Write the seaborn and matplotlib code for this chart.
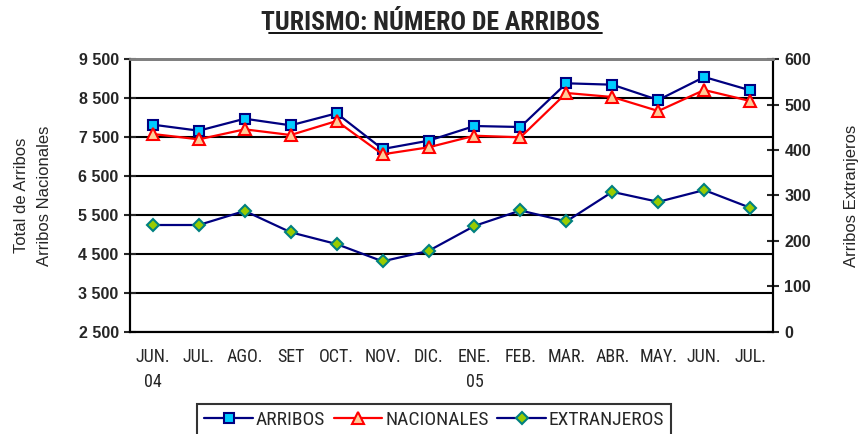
import numpy as np
import matplotlib.pyplot as plt
import seaborn as sns
import pandas as pd

months = ["JUN.\n04", "JUL.", "AGO.", "SET", "OCT.", "NOV.", "DIC.",
          "ENE.\n05", "FEB.", "MAR.", "ABR.", "MAY.", "JUN.", "JUL."]
arribos = [7820, 7665, 7973, 7803, 8112, 7194, 7408,
           7785, 7760, 8883, 8847, 8454, 9045, 8703]
nacionales = [7580, 7443, 7700, 7554, 7914, 7058, 7238,
              7536, 7495, 8634, 8531, 8171, 8711, 8428]
extranjeros = [235, 235, 266, 219, 193, 155, 178,
               233, 267, 243, 308, 286, 312, 273]

df = pd.DataFrame({
    "pos": np.arange(len(months)),
    "ARRIBOS": arribos,
    "NACIONALES": nacionales,
    "EXTRANJEROS": extranjeros,
})

sns.set_style("white")
plt.rcParams["font.family"] = ["Liberation Sans", "DejaVu Sans"]
narrow = ["Roboto Condensed", "Liberation Sans Narrow", "Open Sans Condensed",
          "Liberation Sans"]

fig = plt.figure(figsize=(8.6, 4.34), dpi=100)
ax = fig.add_axes([0.151, 0.2357, 0.748, 0.6277])
ax2 = ax.twinx()

sns.lineplot(data=df, x="pos", y="ARRIBOS", ax=ax, color="#000080", lw=1.6,
             marker="s", markersize=7.5, markerfacecolor="#00CCFF",
             markeredgecolor="#000080", markeredgewidth=1.5, label="ARRIBOS")
sns.lineplot(data=df, x="pos", y="NACIONALES", ax=ax, color="#FF0000", lw=1.6,
             marker="^", markersize=8, markerfacecolor="#FFCC99",
             markeredgecolor="#FF0000", markeredgewidth=1.5, label="NACIONALES")
sns.lineplot(data=df, x="pos", y="EXTRANJEROS", ax=ax2, color="#000080", lw=1.6,
             marker="D", markersize=6, markerfacecolor="#99CC00",
             markeredgecolor="#008080", markeredgewidth=1.5, label="EXTRANJEROS")

# left axis
ax.set_xlim(-0.5, len(months) - 0.5)
ax.set_ylim(2500, 9500)
lticks = np.arange(2500, 9501, 1000)
ax.set_yticks(lticks)
ax.set_yticklabels([f"{v:,}".replace(",", " ") for v in lticks],
                   fontweight="bold", fontsize=11.5)
ax.yaxis.grid(True, color="black", lw=1.5)
ax.set_axisbelow(True)

# category boundaries as ticks, labels centred in between
ax.set_xticks(np.arange(-0.5, len(months), 1.0))
ax.set_xticklabels([])
ax.set_xticks(np.arange(len(months)), minor=True)
ax.set_xticklabels(months, minor=True, fontsize=13, family=narrow,
                   linespacing=1.45, va="top")
ax.tick_params(axis="x", which="minor", length=0, pad=12)
ax.tick_params(axis="x", which="major", direction="inout", length=7, width=1.5)
ax.tick_params(axis="y", direction="inout", length=8, width=1.5, pad=4)
ax.set_xlabel("")
ax.set_ylabel("Total de Arribos\nArribos Nacionales", fontsize=12,
              linespacing=1.7, labelpad=19)

# right axis
ax2.set_ylim(0, 600)
rticks = np.arange(0, 601, 100)
ax2.set_yticks(rticks)
ax2.set_yticklabels([str(v) for v in rticks], fontweight="bold", fontsize=11.5)
ax2.tick_params(axis="y", direction="inout", length=8, width=1.5, pad=4)
ax2.set_ylabel("Arribos Extranjeros", fontsize=12, labelpad=24)

for a in (ax, ax2):
    for s in ("left", "right", "bottom"):
        a.spines[s].set_color("black")
        a.spines[s].set_linewidth(1.5)
    a.spines["top"].set_color("#808080")
    a.spines["top"].set_linewidth(2)

h1, l1 = ax.get_legend_handles_labels()
h2, l2 = ax2.get_legend_handles_labels()
ax.get_legend().remove()
ax2.get_legend().remove()
leg = fig.legend(h1 + h2, l1 + l2, loc="upper center",
                 bbox_to_anchor=(0.505, 0.069), ncol=3, frameon=True,
                 fancybox=False, edgecolor="black", handlelength=2.5,
                 handletextpad=0.15, columnspacing=0.45, borderpad=0.35,
                 borderaxespad=0, prop={"size": 14, "family": narrow})
leg.get_frame().set_linewidth(1.5)

fig.text(0.5, 0.948, "TURISMO: NÚMERO DE ARRIBOS", ha="center", va="center",
         fontsize=18.5, fontweight="bold", family=narrow)
fig.add_artist(plt.Line2D([0.313, 0.700], [0.923, 0.923], color="black",
                          lw=1.3, transform=fig.transFigure))

fig.savefig("out.png", dpi=100)
